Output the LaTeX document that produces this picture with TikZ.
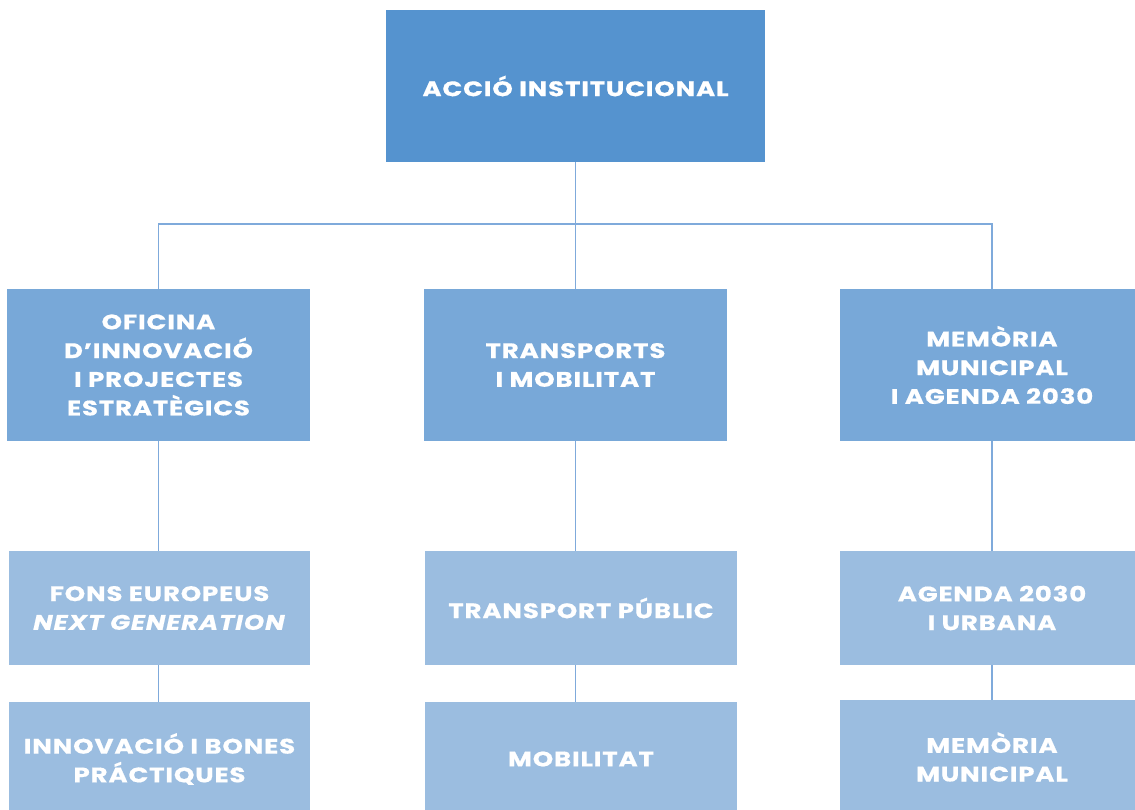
\documentclass[tikz,border=0pt]{standalone}
\usepackage{fontspec}
\setmainfont{Poppins}[FakeStretch=1.24, LetterSpace=4, FakeBold=0.6]
\usetikzlibrary{positioning}

\definecolor{boxdark}{HTML}{5593CF}
\definecolor{boxmid}{HTML}{78A8D8}
\definecolor{boxlight}{HTML}{9BBDE0}
\definecolor{linkblue}{HTML}{7FAADB}

\begin{document}
\begin{tikzpicture}[x=1pt,y=1pt,on grid,
    unit/.style={rectangle, text=white, align=center, inner sep=0pt,
        font=\fontsize{21}{28.7}\selectfont\bfseries},
    headbox/.style={unit, fill=boxdark, minimum width=379pt, minimum height=152pt},
    areabox/.style={unit, fill=boxmid, minimum width=303pt, minimum height=152pt},
    taskbox/.style={unit, fill=boxlight, minimum height=114pt},
    link/.style={draw=linkblue, line width=1.5pt}]
    \useasboundingbox (0,0) rectangle (1135,-810);
    \node[headbox] (acc) at (575.5,-86) {ACCIÓ INSTITUCIONAL};
    \node[areabox] (tra) [below=279pt of acc] {TRANSPORTS\\I MOBILITAT};
    \node[areabox] (ofi) [left=417pt of tra] {OFICINA\\D’INNOVACIÓ\\I PROJECTES\\ESTRATÈGICS};
    \node[areabox, minimum width=304pt] (mem) [right=416.5pt of tra] {MEMÒRIA\\MUNICIPAL\\I AGENDA 2030};
    \node[taskbox, minimum width=301pt] (fons) [below=243pt of ofi, xshift=1pt] {FONS EUROPEUS\\\textit{NEXT GENERATION}};
    \node[taskbox, minimum width=312pt] (tpub) [below=243pt of tra, xshift=5.5pt] {TRANSPORT PÚBLIC};
    \node[taskbox, minimum width=304pt] (agen) [below=243pt of mem] {AGENDA 2030\\I URBANA};
    \node[taskbox, minimum width=301pt] (bones) [below=151pt of fons] {INNOVACIÓ I BONES\\PRÁCTIQUES};
    \node[taskbox, minimum width=312pt] (mob) [below=151pt of tpub] {MOBILITAT};
    \node[taskbox, minimum width=304pt] (memm) [below=149pt of agen] {MEMÒRIA\\MUNICIPAL};
    % tree lines
    \coordinate (bus) at (575.5,-224);
    \draw[link] (acc.south) -- (bus);
    \draw[link] (bus) -- (tra.north);
    \draw[link] (ofi.north) |- (bus) -| (mem.north);
    \draw[link] (ofi.south) -- (ofi.south |- fons.north);
    \draw[link] (tra.south) -- (tra.south |- tpub.north);
    \draw[link] (mem.south) -- (mem.south |- agen.north);
    \draw[link] (ofi.south |- fons.south) -- (ofi.south |- bones.north);
    \draw[link] (tra.south |- tpub.south) -- (tra.south |- mob.north);
    \draw[link] (mem.south |- agen.south) -- (mem.south |- memm.north);
\end{tikzpicture}
\end{document}
